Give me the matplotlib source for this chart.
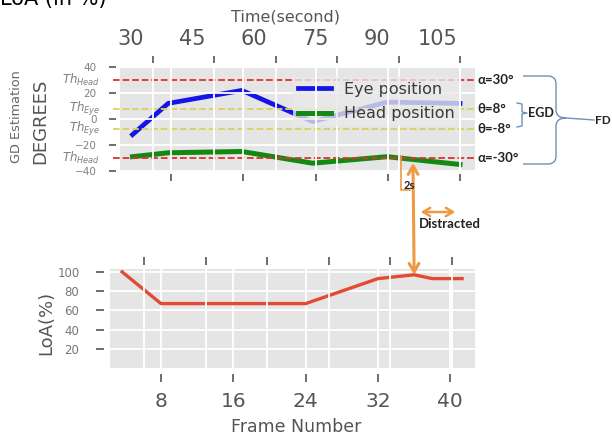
import matplotlib
matplotlib.use('Agg')
import matplotlib.pyplot as plt
import matplotlib.transforms as mtransforms
from matplotlib.patches import FancyArrowPatch, ConnectionPatch, PathPatch
from matplotlib.path import Path

# top panel: gaze estimation vs time
time_s = [25, 33.7, 51.7, 69, 87.2, 105]
eye_deg = [-12, 12, 22, -2, 13, 12]
head_deg = [-29, -26, -25, -34, -29, -35]

# bottom panel: level of attention vs frame
frames = [3.7, 8, 24, 32, 36, 38, 41.3]
loa = [100, 67, 67, 93, 97, 93, 93]

time_ticks = [30, 45, 60, 75, 90, 105]
frame_ticks = [8, 16, 24, 32, 40]
deg_ticks = [-40, -20, 0, 20, 40]
loa_ticks = [20, 40, 60, 80, 100]

thresholds = [30, 8, -8, -30]
th_labels = [r'$Th_{Head}$', r'$Th_{Eye}$', r'$Th_{Eye}$', r'$Th_{Head}$']
th_names = ['α=30°', 'θ=8°', 'θ=-8°', 'α=-30°']
th_colors = ['#e0322e', '#d6d45c', '#d6d45c', '#e0322e']

plt.style.use('ggplot')
plt.rcParams['grid.linewidth'] = 1.3

W, H = 612, 437
fig = plt.figure(figsize=(W / 100, H / 100), dpi=100)
fig.patch.set_facecolor('white')


def fx(px):
    return px / W


def fy(py):
    return 1 - py / H


def box(l, t, r, b):
    return [fx(l), fy(b), (r - l) / W, (b - t) / H]


GRAY = '#555555'
ORANGE = '#EE9944'
BRACE = '#7090b8'
NOTE = dict(family=['Lato', 'DejaVu Sans'], weight='bold', color='#222222')

# ---------------- top panel ----------------
ax_t = fig.add_axes(box(120, 67, 475, 171))
ax_f = ax_t.twiny()
ax_t.set_axisbelow(False)

# spines first: moving them rebuilds the ticks
for ax in (ax_t, ax_f):
    for s in ax.spines.values():
        s.set_visible(False)
ax_t.spines['top'].set_position(('outward', 3))
ax_t.spines['left'].set_position(('outward', 3))
ax_f.spines['bottom'].set_position(('outward', 2))

ax_t.plot(time_s, eye_deg, color='#1414e6', lw=3.4, label='Eye position')
ax_t.plot(time_s, head_deg, color='#128a12', lw=3.6, label='Head position')

ytr = ax_t.get_yaxis_transform()
for y, c, lab, name in zip(thresholds, th_colors, th_labels, th_names):
    ax_t.axhline(y, xmin=-0.02, xmax=1.0, color=c, ls='--', lw=1.3, clip_on=False)
    ax_t.text(-0.056, y, lab, transform=ytr, ha='right', va='center',
              fontsize=8.5, color='#808080')
    ax_t.text(1.006, y, name, transform=ytr, ha='left', va='center',
              fontsize=9.5, **NOTE)

ax_t.set_xlim(21.94, 108.66)
ax_t.set_ylim(-40, 40)
ax_f.set_xlim(2.35, 41.66)

ax_t.xaxis.tick_top()
ax_t.xaxis.set_label_position('top')
ax_f.xaxis.tick_bottom()
ax_t.set_xticks(time_ticks)
ax_t.set_xticklabels([str(t) for t in time_ticks])
ax_f.set_xticks(frame_ticks)
ax_f.set_xticklabels([])
ax_t.set_yticks(deg_ticks)

ax_t.tick_params(axis='x', length=5, width=1.2, color=GRAY, labelsize=15,
                 labelcolor=GRAY, pad=5)
ax_t.tick_params(axis='y', length=5, width=1.2, color=GRAY, labelsize=7.5,
                 labelcolor='#808080', pad=9)
ax_f.tick_params(axis='x', length=5, width=1.2, color=GRAY)

# time labels sit left of their tick marks in the original
shift = mtransforms.ScaledTranslation(-0.22, 0, fig.dpi_scale_trans)
for tick in ax_t.xaxis.get_major_ticks():
    tick.label2.set_transform(tick.label2.get_transform() + shift)

leg = ax_t.legend(loc='upper left', bbox_to_anchor=(0.487, 0.905), fontsize=11.5,
                  frameon=True, facecolor='#e9e9e9', framealpha=0.78,
                  edgecolor='none', fancybox=False, handlelength=2.1,
                  handletextpad=0.8, labelspacing=0.6, borderpad=0.3,
                  borderaxespad=0)
for t in leg.get_texts():
    t.set_color('#3a3a3a')

ax_t.set_xlabel('Time(second)', fontsize=11.5, color=GRAY)
ax_t.xaxis.set_label_coords(0.466, 1.48)
ax_t.xaxis.label.set_va('center')
ax_t.set_ylabel('DEGREES', fontsize=13, color=GRAY)
ax_t.yaxis.set_label_coords(-0.225, 0.48)
ax_t.yaxis.label.set_va('center')
fig.text(fx(17), fy(117), 'GD Estimation', rotation=90, ha='center',
         va='center', fontsize=9.3, color='#666666')

# ---------------- bottom panel ----------------
ax_b = fig.add_axes(box(110, 269, 475, 368))
ax_bt = ax_b.twiny()

for ax in (ax_b, ax_bt):
    for s in ax.spines.values():
        s.set_visible(False)
ax_b.spines['bottom'].set_position(('outward', 4))
ax_b.spines['left'].set_position(('outward', 4))
ax_bt.spines['top'].set_position(('outward', 3))

ax_b.plot(frames, loa, color='#E24A33', lw=2.4)

ax_b.set_xlim(2.36, 42.73)
ax_b.set_ylim(0, 103)
ax_bt.set_xlim(21.72, 110.6)
ax_b.set_xticks(frame_ticks)
ax_b.set_xticklabels([str(f) for f in frame_ticks])
ax_bt.set_xticks(time_ticks)
ax_bt.set_xticklabels([])
ax_b.set_yticks(loa_ticks)

ax_b.tick_params(axis='x', length=6, width=1.2, color=GRAY, labelsize=14.5,
                 labelcolor=GRAY, pad=7)
ax_b.tick_params(axis='y', length=6, width=1.2, color=GRAY, labelsize=8.5,
                 labelcolor='#777777', pad=12)
ax_bt.tick_params(axis='x', length=6, width=1.2, color=GRAY)

ax_b.set_xlabel('Frame Number', fontsize=12.5, color=GRAY)
ax_b.xaxis.set_label_coords(0.51, -0.596)
ax_b.xaxis.label.set_va('center')
ax_b.set_ylabel('LoA(%)', fontsize=13, color=GRAY)
ax_b.yaxis.set_label_coords(-0.175, 0.455)
ax_b.yaxis.label.set_va('center')

# ---------------- annotations ----------------
peak = loa.index(max(loa[1:]))
fig.add_artist(ConnectionPatch(xyA=(fx(413), fy(163)), coordsA='figure fraction',
                               xyB=(frames[peak], loa[peak]), coordsB=ax_b.transData,
                               arrowstyle='<->,head_length=0.6,head_width=0.35',
                               color=ORANGE, lw=2.2, shrinkA=0, shrinkB=0))
fig.add_artist(FancyArrowPatch((fx(418), fy(212)), (fx(458), fy(212)),
                               transform=fig.transFigure,
                               arrowstyle='<->,head_length=0.5,head_width=0.3',
                               color=ORANGE, lw=1.8, mutation_scale=10))
fig.add_artist(plt.Line2D([fx(401), fx(401), fx(410)], [fy(156), fy(190), fy(190)],
                          transform=fig.transFigure, color=ORANGE, lw=1.2))
fig.text(fx(404), fy(186), '2s', fontsize=8, ha='left', va='center', **NOTE)
fig.text(fx(419), fy(224), 'Distracted', fontsize=9.5, ha='left', va='center', **NOTE)

egd = [(517, 103), (522, 104), (522, 112), (527, 113), (522, 114), (522, 126), (517, 127)]
fig.add_artist(plt.Line2D([fx(p[0]) for p in egd], [fy(p[1]) for p in egd],
                          transform=fig.transFigure, color=BRACE, lw=1))
fig.text(fx(528), fy(113), 'EGD', fontsize=9, ha='left', va='center', **NOTE)

M, L, C = Path.MOVETO, Path.LINETO, Path.CURVE3
brace = [(523, 76), (548, 76), (556, 76), (556, 84), (556, 110), (556, 118), (566, 118),
         (556, 118), (556, 126), (556, 156), (556, 164), (548, 164), (523, 164)]
codes = [M, L, C, C, L, C, C, C, C, L, C, C, L]
fig.add_artist(PathPatch(Path([(fx(x), fy(y)) for x, y in brace], codes),
                         transform=fig.transFigure, fill=False, edgecolor=BRACE, lw=1))
fig.add_artist(plt.Line2D([fx(566), fx(594)], [fy(118), fy(120)],
                          transform=fig.transFigure, color=BRACE, lw=1))
fig.text(fx(595), fy(121), 'FD', fontsize=8.5, ha='left', va='center', **NOTE)

fig.text(fx(0), fy(5), 'LoA (in %)', fontsize=15, ha='left', va='baseline', color='black')

fig.savefig('out.png', dpi=100)
